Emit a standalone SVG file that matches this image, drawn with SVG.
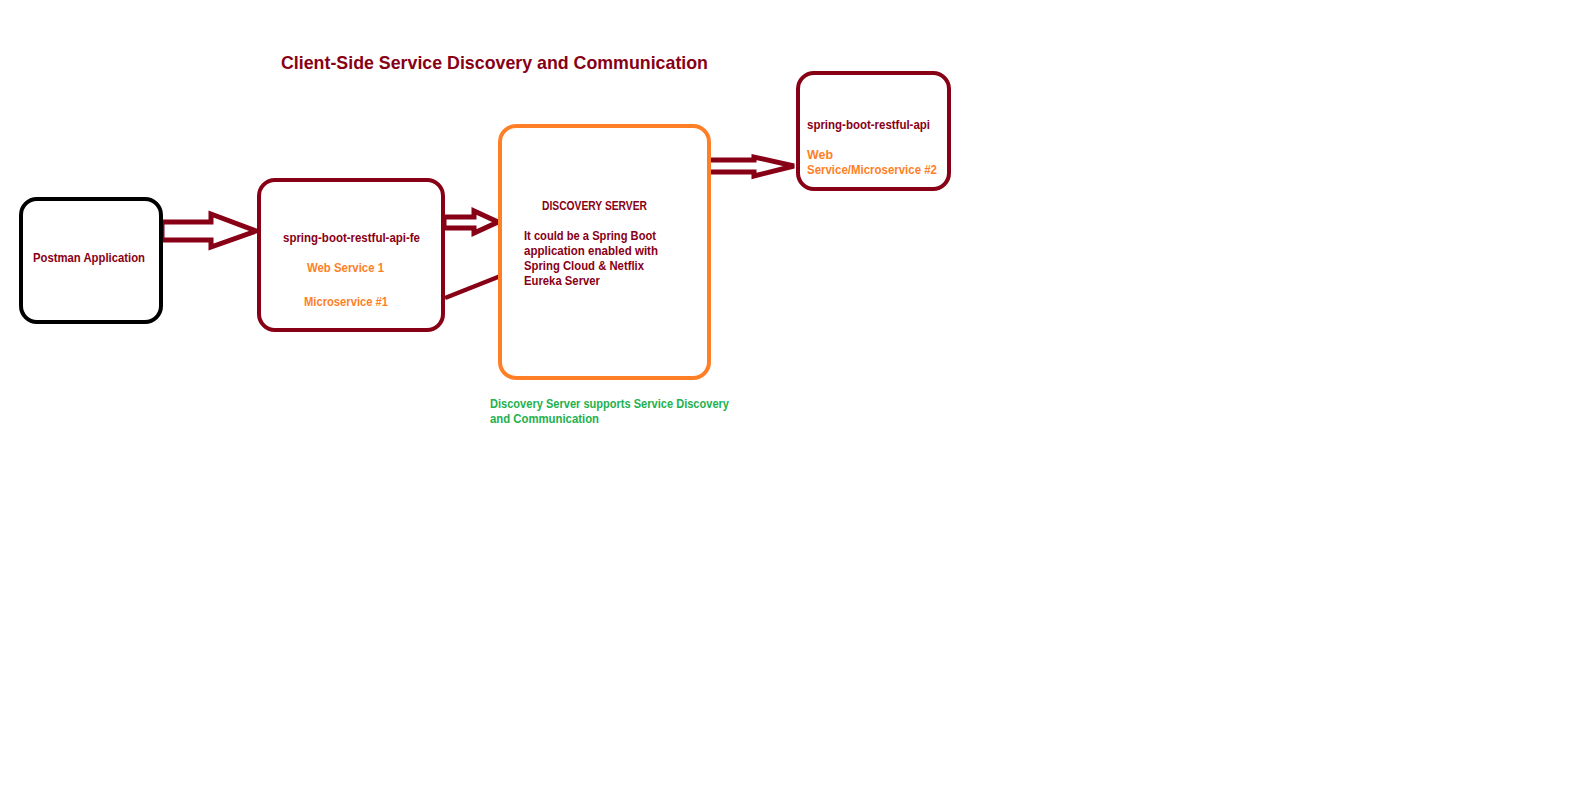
<svg xmlns="http://www.w3.org/2000/svg" width="1570" height="788" viewBox="0 0 1570 788">
<style>
.box{fill:#fff;stroke-width:4}
.red{stroke:#880015}
.t{font-family:"Liberation Sans",Arial,sans-serif;font-weight:bold;font-size:12.5px}
.dr{fill:#880015}
.or{fill:#FF7F27}
.gr{fill:#22B14C}
.arr{fill:#fff;stroke:#880015;stroke-width:5;stroke-linejoin:miter}
</style>
<rect width="1570" height="788" fill="#fff"/>
<text class="t dr" x="281" y="69" style="font-size:18.5px" textLength="427" lengthAdjust="spacingAndGlyphs">Client-Side Service Discovery and Communication</text>
<g id="connectors">
<polygon class="arr" points="162,222 211,222 211,214 256,231 211,247 211,240 162,240"/>
<polygon class="arr" points="444,217 474,217 474,211 498,222 474,233 474,228 444,228"/>
<line x1="445" y1="298" x2="503" y2="275" stroke="#880015" stroke-width="4.5"/>
<polygon class="arr" points="708,160 754,160 754,157 794,166 754,176 754,172 708,172"/>
</g>
<g id="postman">
<rect class="box" x="21" y="199" width="140" height="123" rx="16" stroke="#000"/>
<text class="t dr" x="33" y="262" textLength="112" lengthAdjust="spacingAndGlyphs">Postman Application</text>
</g>
<g id="fe">
<rect class="box red" x="259" y="180" width="184" height="150" rx="16"/>
<text class="t dr" x="283" y="242" textLength="137" lengthAdjust="spacingAndGlyphs">spring-boot-restful-api-fe</text>
<text class="t or" x="307" y="272" textLength="77" lengthAdjust="spacingAndGlyphs">Web Service 1</text>
<text class="t or" x="304" y="306" textLength="84" lengthAdjust="spacingAndGlyphs">Microservice #1</text>
</g>
<g id="discovery">
<rect class="box" x="500" y="126" width="209" height="252" rx="16" stroke="#FF7F27"/>
<text class="t dr" x="542" y="210" textLength="105" lengthAdjust="spacingAndGlyphs">DISCOVERY SERVER</text>
<text class="t dr" x="524" y="240" textLength="132" lengthAdjust="spacingAndGlyphs">It could be a Spring Boot</text>
<text class="t dr" x="524" y="255" textLength="134" lengthAdjust="spacingAndGlyphs">application enabled with</text>
<text class="t dr" x="524" y="270" textLength="120" lengthAdjust="spacingAndGlyphs">Spring Cloud &amp; Netflix</text>
<text class="t dr" x="524" y="285" textLength="76" lengthAdjust="spacingAndGlyphs">Eureka Server</text>
</g>
<g id="api">
<rect class="box red" x="798" y="73" width="151" height="116" rx="16"/>
<text class="t dr" x="807" y="129" textLength="123" lengthAdjust="spacingAndGlyphs">spring-boot-restful-api</text>
<text class="t or" x="807" y="159" textLength="26" lengthAdjust="spacingAndGlyphs">Web</text>
<text class="t or" x="807" y="174" textLength="130" lengthAdjust="spacingAndGlyphs">Service/Microservice #2</text>
</g>
<g id="note">
<text class="t gr" x="490" y="408" textLength="239" lengthAdjust="spacingAndGlyphs">Discovery Server supports Service Discovery</text>
<text class="t gr" x="490" y="423" textLength="109" lengthAdjust="spacingAndGlyphs">and Communication</text>
</g>
</svg>
